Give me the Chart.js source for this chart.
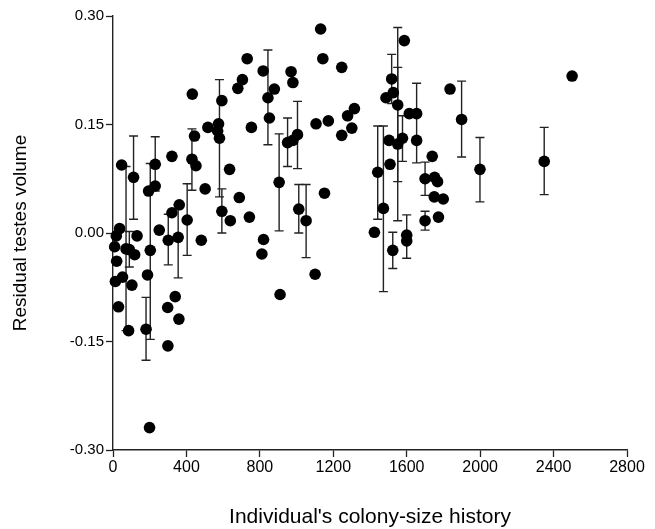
<!DOCTYPE html>
<html lang="en">
<head>
    <meta charset="UTF-8">
    <title>Residual testes volume vs colony-size history</title>
    <script src="https://cdn.jsdelivr.net/npm/chart.js"></script>
    <style>
        html, body { margin: 0; padding: 0; background: #fff; }
        #wrap { width: 655px; height: 529px; }
    </style>
</head>
<body>
    <div id="wrap"><canvas id="scatterChart" width="655" height="529"></canvas></div>
    <script>
        // colony-size history (x) and residual testes volume (y)
        const colonyHistory = [
            18, 36, 9, 20, 13, 52, 30, 47, 71, 89,
            131, 118, 103, 85, 112, 230, 230, 194, 203, 188,
            180, 199, 252, 321, 432, 444, 430, 452, 502, 361,
            321, 301, 355, 404, 481, 339, 298, 359, 299, 517,
            575, 570, 580, 593, 593, 635, 639, 680, 705, 731,
            688, 743, 754, 818, 879, 844, 852, 820, 811, 905,
            910, 970, 980, 951, 980, 1005, 1012, 1052, 1101, 1106,
            1131, 1143, 1152, 1173, 1246, 1246, 1278, 1301, 1315, 1424,
            1442, 1473, 1524, 1509, 1504, 1487, 1518, 1527, 1551, 1551,
            1587, 1577, 1600, 1600, 1614, 1654, 1654, 1700, 1700, 1739,
            1752, 1768, 1750, 1799, 1773, 1836, 1899, 1999, 2349, 2501
        ];
        const residualVolume = [
            -0.004, 0.006, -0.019, -0.039, -0.067, -0.061, -0.102, 0.094, -0.022, -0.023,
            -0.004, -0.030, -0.072, -0.135, 0.077, 0.095, 0.065, 0.058, -0.024, -0.058,
            -0.133, -0.269, 0.004, 0.106, 0.192, 0.134, 0.102, 0.093, 0.061, 0.039,
            0.028, -0.010, -0.006, 0.018, -0.010, -0.088, -0.103, -0.119, -0.156, 0.146,
            0.151, 0.141, 0.131, 0.183, 0.030, 0.088, 0.017, 0.200, 0.212, 0.241,
            0.049, 0.022, 0.146, 0.224, 0.199, 0.187, 0.159, -0.009, -0.029, 0.070,
            -0.085, 0.223, 0.208, 0.125, 0.128, 0.136, 0.033, 0.017, -0.057, 0.151,
            0.282, 0.241, 0.055, 0.155, 0.229, 0.135, 0.162, 0.145, 0.172, 0.001,
            0.084, 0.034, -0.024, 0.095, 0.128, 0.187, 0.213, 0.194, 0.177, 0.123,
            0.266, 0.131, -0.003, -0.011, 0.165, 0.165, 0.128, 0.075, 0.017, 0.106,
            0.077, 0.071, 0.050, 0.047, 0.022, 0.199, 0.157, 0.088, 0.099, 0.217
        ];
        // error bar ends (null = no bar)
        const errHigh = [
            null, null, null, null, null, null, null, null, 0.092, 0.002,
            null, null, null, null, 0.134, 0.133, null, null, 0.096, null,
            -0.089, null, null, null, null, null, 0.144, null, null, null,
            null, 0.026, 0.039, 0.068, null, null, null, null, null, null,
            null, null, 0.212, null, 0.061, null, null, null, null, null,
            null, null, null, null, null, 0.253, null, null, null, 0.137,
            null, null, null, 0.159, null, 0.182, 0.067, 0.067, null, null,
            null, null, null, null, null, null, null, null, null, null,
            0.148, 0.148, 0.001, null, null, null, 0.247, null, 0.284, 0.229,
            null, 0.162, 0.025, null, null, null, 0.207, 0.098, 0.030, null,
            null, null, null, null, null, null, 0.210, 0.132, 0.146, null
        ];
        const errLow = [
            null, null, null, null, null, null, null, null, -0.135, -0.047,
            null, null, null, null, 0.019, 0.058, null, null, -0.147, null,
            -0.176, null, null, null, null, null, 0.059, null, null, null,
            null, -0.044, -0.062, -0.031, null, null, null, null, null, null,
            null, null, 0.050, null, 0.000, null, null, null, null, null,
            null, null, null, null, null, 0.122, null, null, null, 0.003,
            null, null, null, 0.092, null, 0.089, 0.000, -0.034, null, null,
            null, null, null, null, null, null, null, null, null, null,
            0.019, -0.081, -0.049, null, null, null, 0.179, null, 0.017, 0.071,
            null, 0.099, -0.035, null, null, null, 0.097, 0.052, 0.004, null,
            null, null, null, null, null, null, 0.105, 0.043, 0.053, null
        ];
        const xTicks = [0, 400, 800, 1200, 1600, 2000, 2400, 2800];
        const yTicks = [-0.30, -0.15, 0.00, 0.15, 0.30];

        const points = colonyHistory.map((x, i) => ({ x: x, y: residualVolume[i] }));

        // draws vertical error bars with caps, behind the dots
        const errorBars = {
            id: 'errorBars',
            beforeDatasetsDraw(chart) {
                const { ctx, scales: { x, y } } = chart;
                ctx.save();
                ctx.strokeStyle = '#222';
                ctx.lineWidth = 1.4;
                colonyHistory.forEach((v, i) => {
                    if (errHigh[i] === null) return;
                    const px = x.getPixelForValue(v);
                    const top = y.getPixelForValue(errHigh[i]);
                    const bot = y.getPixelForValue(errLow[i]);
                    ctx.beginPath();
                    ctx.moveTo(px, top); ctx.lineTo(px, bot);
                    ctx.moveTo(px - 4.5, top); ctx.lineTo(px + 4.5, top);
                    ctx.moveTo(px - 4.5, bot); ctx.lineTo(px + 4.5, bot);
                    ctx.stroke();
                });
                ctx.restore();
            }
        };

        const font = 'Liberation Sans, Arial, sans-serif';

        new Chart(document.getElementById('scatterChart'), {
            type: 'scatter',
            data: {
                datasets: [{
                    data: points,
                    backgroundColor: '#000',
                    borderColor: '#000',
                    borderWidth: 0,
                    pointRadius: 5.8,
                    pointHoverRadius: 5.8,
                    clip: false
                }]
            },
            options: {
                responsive: false,
                animation: false,
                layout: { padding: { top: 16, right: 28, left: 0, bottom: 0 } },
                plugins: { legend: { display: false }, tooltip: { enabled: false } },
                scales: {
                    x: {
                        type: 'linear',
                        min: 0,
                        max: 2800,
                        afterBuildTicks: (s) => { s.ticks = xTicks.map(v => ({ value: v })); },
                        afterFit: (s) => { s.height = 79; },
                        ticks: {
                            color: '#000',
                            font: { family: font, size: 16 },
                            padding: 1,
                            maxRotation: 0,
                            callback: (v) => String(v)
                        },
                        grid: { drawOnChartArea: false, drawTicks: true, tickLength: 7, tickColor: '#222', tickWidth: 1.3 },
                        border: { color: '#222', width: 1.4 },
                        title: {
                            display: true,
                            text: "Individual's colony-size history",
                            color: '#000',
                            font: { family: font, size: 21, lineHeight: 1.1 },
                            padding: { bottom: 0 }
                        }
                    },
                    y: {
                        type: 'linear',
                        min: -0.30,
                        max: 0.30,
                        afterBuildTicks: (s) => { s.ticks = yTicks.map(v => ({ value: v })); },
                        afterFit: (s) => { s.width = 113; },
                        ticks: {
                            color: '#000',
                            font: { family: font, size: 15 },
                            padding: 2,
                            callback: (v) => v.toFixed(2)
                        },
                        grid: { drawOnChartArea: false, drawTicks: true, tickLength: 7, tickColor: '#222', tickWidth: 1.3 },
                        border: { color: '#222', width: 1.4 },
                        title: {
                            display: true,
                            text: 'Residual testes volume',
                            color: '#000',
                            font: { family: font, size: 19 },
                            padding: { top: 9 }
                        }
                    }
                }
            },
            plugins: [errorBars]
        });
    </script>
</body>
</html>
